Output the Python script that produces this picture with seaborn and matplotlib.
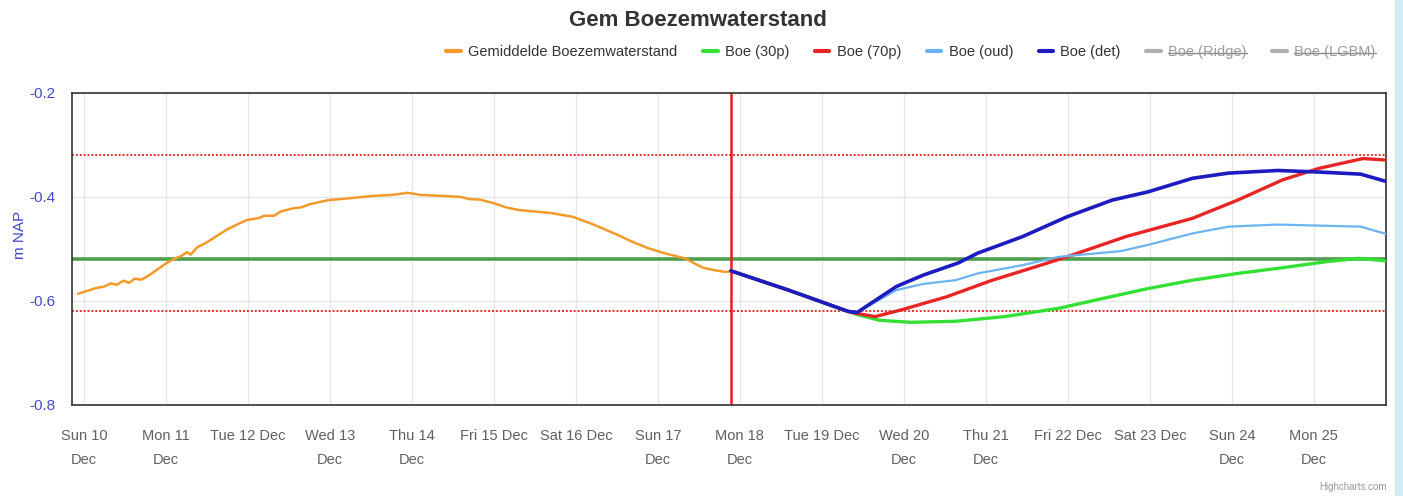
import matplotlib
matplotlib.use("Agg")
import matplotlib.pyplot as plt
from matplotlib.lines import Line2D
from matplotlib.patches import Rectangle
import numpy as np
import pandas as pd
import seaborn as sns

# ---- data (days after Sun 10 Dec 2023 00:00, m NAP) ----
BASE = pd.Timestamp("2023-12-10")

obs_days = [-0.07, 0.05, 0.15, 0.25, 0.33, 0.40, 0.48, 0.55, 0.62, 0.70, 0.78, 0.88,
            0.98, 1.07, 1.18, 1.26, 1.30, 1.38, 1.50, 1.61, 1.75, 1.88, 1.99, 2.12,
            2.20, 2.32, 2.40, 2.54, 2.65, 2.75, 2.98, 3.20, 3.52, 3.75, 3.95, 4.10,
            4.39, 4.60, 4.70, 4.83, 5.00, 5.15, 5.30, 5.50, 5.70, 5.96, 6.20, 6.51,
            6.70, 6.89, 7.10, 7.33, 7.45, 7.55, 7.70, 7.82, 7.89]
obs_vals = [-0.586, -0.580, -0.575, -0.572, -0.566, -0.569, -0.561, -0.565, -0.557, -0.559,
            -0.552, -0.541, -0.530, -0.521, -0.514, -0.506, -0.511, -0.497, -0.487, -0.476,
            -0.462, -0.452, -0.444, -0.441, -0.436, -0.436, -0.428, -0.422, -0.420, -0.414,
            -0.406, -0.403, -0.398, -0.396, -0.392, -0.396, -0.398, -0.400, -0.404, -0.405,
            -0.412, -0.420, -0.425, -0.428, -0.431, -0.438, -0.452, -0.473, -0.487, -0.499,
            -0.509, -0.518, -0.528, -0.536, -0.541, -0.544, -0.543]

p30_days = [7.89, 8.61, 9.32, 9.43, 9.70, 10.08, 10.63, 11.23, 11.89, 12.43, 12.98,
            13.52, 14.07, 14.62, 15.17, 15.55, 15.88]
p30_vals = [-0.542, -0.580, -0.620, -0.626, -0.637, -0.641, -0.639, -0.630, -0.614,
            -0.595, -0.576, -0.560, -0.547, -0.536, -0.524, -0.518, -0.523]

p70_days = [7.89, 8.61, 9.32, 9.43, 9.65, 9.97, 10.52, 11.06, 11.61, 11.99, 12.71,
            13.52, 14.07, 14.62, 15.06, 15.60, 15.88]
p70_vals = [-0.542, -0.580, -0.620, -0.624, -0.630, -0.617, -0.592, -0.561, -0.534,
            -0.515, -0.476, -0.441, -0.406, -0.367, -0.345, -0.326, -0.329]

oud_days = [7.89, 8.61, 9.32, 9.43, 9.91, 10.24, 10.63, 10.90, 11.45, 11.89, 12.65,
            12.98, 13.52, 13.96, 14.56, 15.06, 15.57, 15.88]
oud_vals = [-0.542, -0.580, -0.620, -0.622, -0.579, -0.567, -0.560, -0.547, -0.531,
            -0.515, -0.504, -0.492, -0.470, -0.457, -0.453, -0.455, -0.457, -0.471]

det_days = [7.89, 8.61, 9.32, 9.43, 9.91, 10.24, 10.66, 10.90, 11.45, 11.99, 12.54,
            12.98, 13.52, 13.96, 14.56, 15.06, 15.57, 15.88]
det_vals = [-0.542, -0.580, -0.620, -0.622, -0.572, -0.550, -0.527, -0.508, -0.476,
            -0.438, -0.406, -0.390, -0.364, -0.354, -0.349, -0.352, -0.356, -0.370]

now_day = 7.89
upper_limit = -0.32
lower_limit = -0.62
target_level = -0.52

tick_labels = ["Sun 10\nDec", "Mon 11\nDec", "Tue 12 Dec", "Wed 13\nDec", "Thu 14\nDec",
               "Fri 15 Dec", "Sat 16 Dec", "Sun 17\nDec", "Mon 18\nDec", "Tue 19 Dec",
               "Wed 20\nDec", "Thu 21\nDec", "Fri 22 Dec", "Sat 23 Dec", "Sun 24\nDec",
               "Mon 25\nDec"]

series_names = ["Gemiddelde Boezemwaterstand", "Boe (30p)", "Boe (70p)", "Boe (oud)",
                "Boe (det)", "Boe (Ridge)", "Boe (LGBM)"]

C_ORANGE = "#f39a2b"
C_GREEN = "#33e033"
C_RED = "#e82525"
C_LBLUE = "#6cb4f0"
C_NAVY = "#1c1cc0"
C_GREY = "#b0b0b0"
C_AXIS_BLUE = "#4545d0"


def to_time(days):
    return BASE + pd.to_timedelta(np.asarray(days), unit="D")


sns.set_style("white")
plt.rcParams["font.family"] = ["Liberation Sans", "DejaVu Sans"]

fig = plt.figure(figsize=(14.03, 4.96), dpi=100)
ax = fig.add_axes([72 / 1403, 1 - 405 / 496, (1386 - 72) / 1403, (405 - 93) / 496])

# reference lines
ax.axhline(upper_limit, color="#e03030", lw=1.4, ls=(0, (1, 1)), zorder=1)
ax.axhline(lower_limit, color="#e03030", lw=1.4, ls=(0, (1, 1)), zorder=1)
ax.axhline(target_level, color="#4e9e4e", lw=2.6, zorder=1)
ax.axvline(to_time([now_day])[0], color="#ee1c1c", lw=1.8, zorder=1)

sns.lineplot(x=to_time(obs_days), y=obs_vals, ax=ax, color=C_ORANGE, lw=1.8,
             label=series_names[0], zorder=3)
sns.lineplot(x=to_time(p30_days), y=p30_vals, ax=ax, color=C_GREEN, lw=2.4,
             label=series_names[1], zorder=3)
sns.lineplot(x=to_time(p70_days), y=p70_vals, ax=ax, color=C_RED, lw=2.4,
             label=series_names[2], zorder=3)
sns.lineplot(x=to_time(oud_days), y=oud_vals, ax=ax, color=C_LBLUE, lw=1.6,
             label=series_names[3], zorder=3)
sns.lineplot(x=to_time(det_days), y=det_vals, ax=ax, color=C_NAVY, lw=2.6,
             label=series_names[4], zorder=4)

# axes
ax.set_ylim(-0.8, -0.2)
ax.set_yticks([-0.8, -0.6, -0.4, -0.2])
ax.set_yticklabels(["-0.8", "-0.6", "-0.4", "-0.2"])
ax.set_xlim(to_time([-0.146])[0], to_time([15.88])[0])
ax.set_xticks(to_time(np.arange(len(tick_labels))))
ax.set_xticklabels(tick_labels, linespacing=1.95)
ax.tick_params(axis="x", length=9, width=1, color="#555555", pad=8,
               labelsize=10.5, labelcolor="#606060")
ax.tick_params(axis="y", length=0, pad=12, labelsize=11, labelcolor=C_AXIS_BLUE)
ax.set_xlabel("")
ax.set_ylabel("")
ax.grid(True, color="#e6e6e6", lw=1)
for sp in ax.spines.values():
    sp.set_visible(True)
    sp.set_color("#333333")
    sp.set_linewidth(1.2)

ax.get_legend().remove()

fig.text(20 / 1403, 1 - 235 / 496, "m NAP", rotation=90, ha="center", va="center",
         fontsize=11, color=C_AXIS_BLUE)

# title and legend
fig.text(698 / 1403, 1 - 20 / 496, "Gem Boezemwaterstand", ha="center", va="center",
         fontsize=16, fontweight="bold", color="#333333")

handles, labels = ax.get_legend_handles_labels()
handles += [Line2D([], [], color=C_GREY), Line2D([], [], color=C_GREY)]
labels += series_names[5:]
leg = fig.legend(handles, labels, ncol=7, loc="center",
                 bbox_to_anchor=(911 / 1403, 1 - 52 / 496), frameon=False,
                 fontsize=10.5, handlelength=1.0, handletextpad=0.5, columnspacing=1.75)
for ln in leg.get_lines():
    ln.set_linewidth(3)
for t in leg.get_texts():
    t.set_color("#333333")

# hidden series: grey, struck-through labels
fig.canvas.draw()
renderer = fig.canvas.get_renderer()
for t in leg.get_texts()[5:]:
    t.set_color("#9a9a9a")
    bb = t.get_window_extent(renderer).transformed(fig.transFigure.inverted())
    ymid = bb.y0 + bb.height * 0.45
    fig.add_artist(Line2D([bb.x0, bb.x1], [ymid, ymid], transform=fig.transFigure,
                          color="#8a8a8a", lw=1))

fig.text(1387 / 1403, 1 - 487 / 496, "Highcharts.com", ha="right", va="center",
         fontsize=7, color="#999999")
fig.patches.append(Rectangle((1395 / 1403, 0), 8 / 1403, 1, transform=fig.transFigure,
                             facecolor="#d4ebf1", edgecolor="none"))

fig.savefig("out.png", dpi=100)
